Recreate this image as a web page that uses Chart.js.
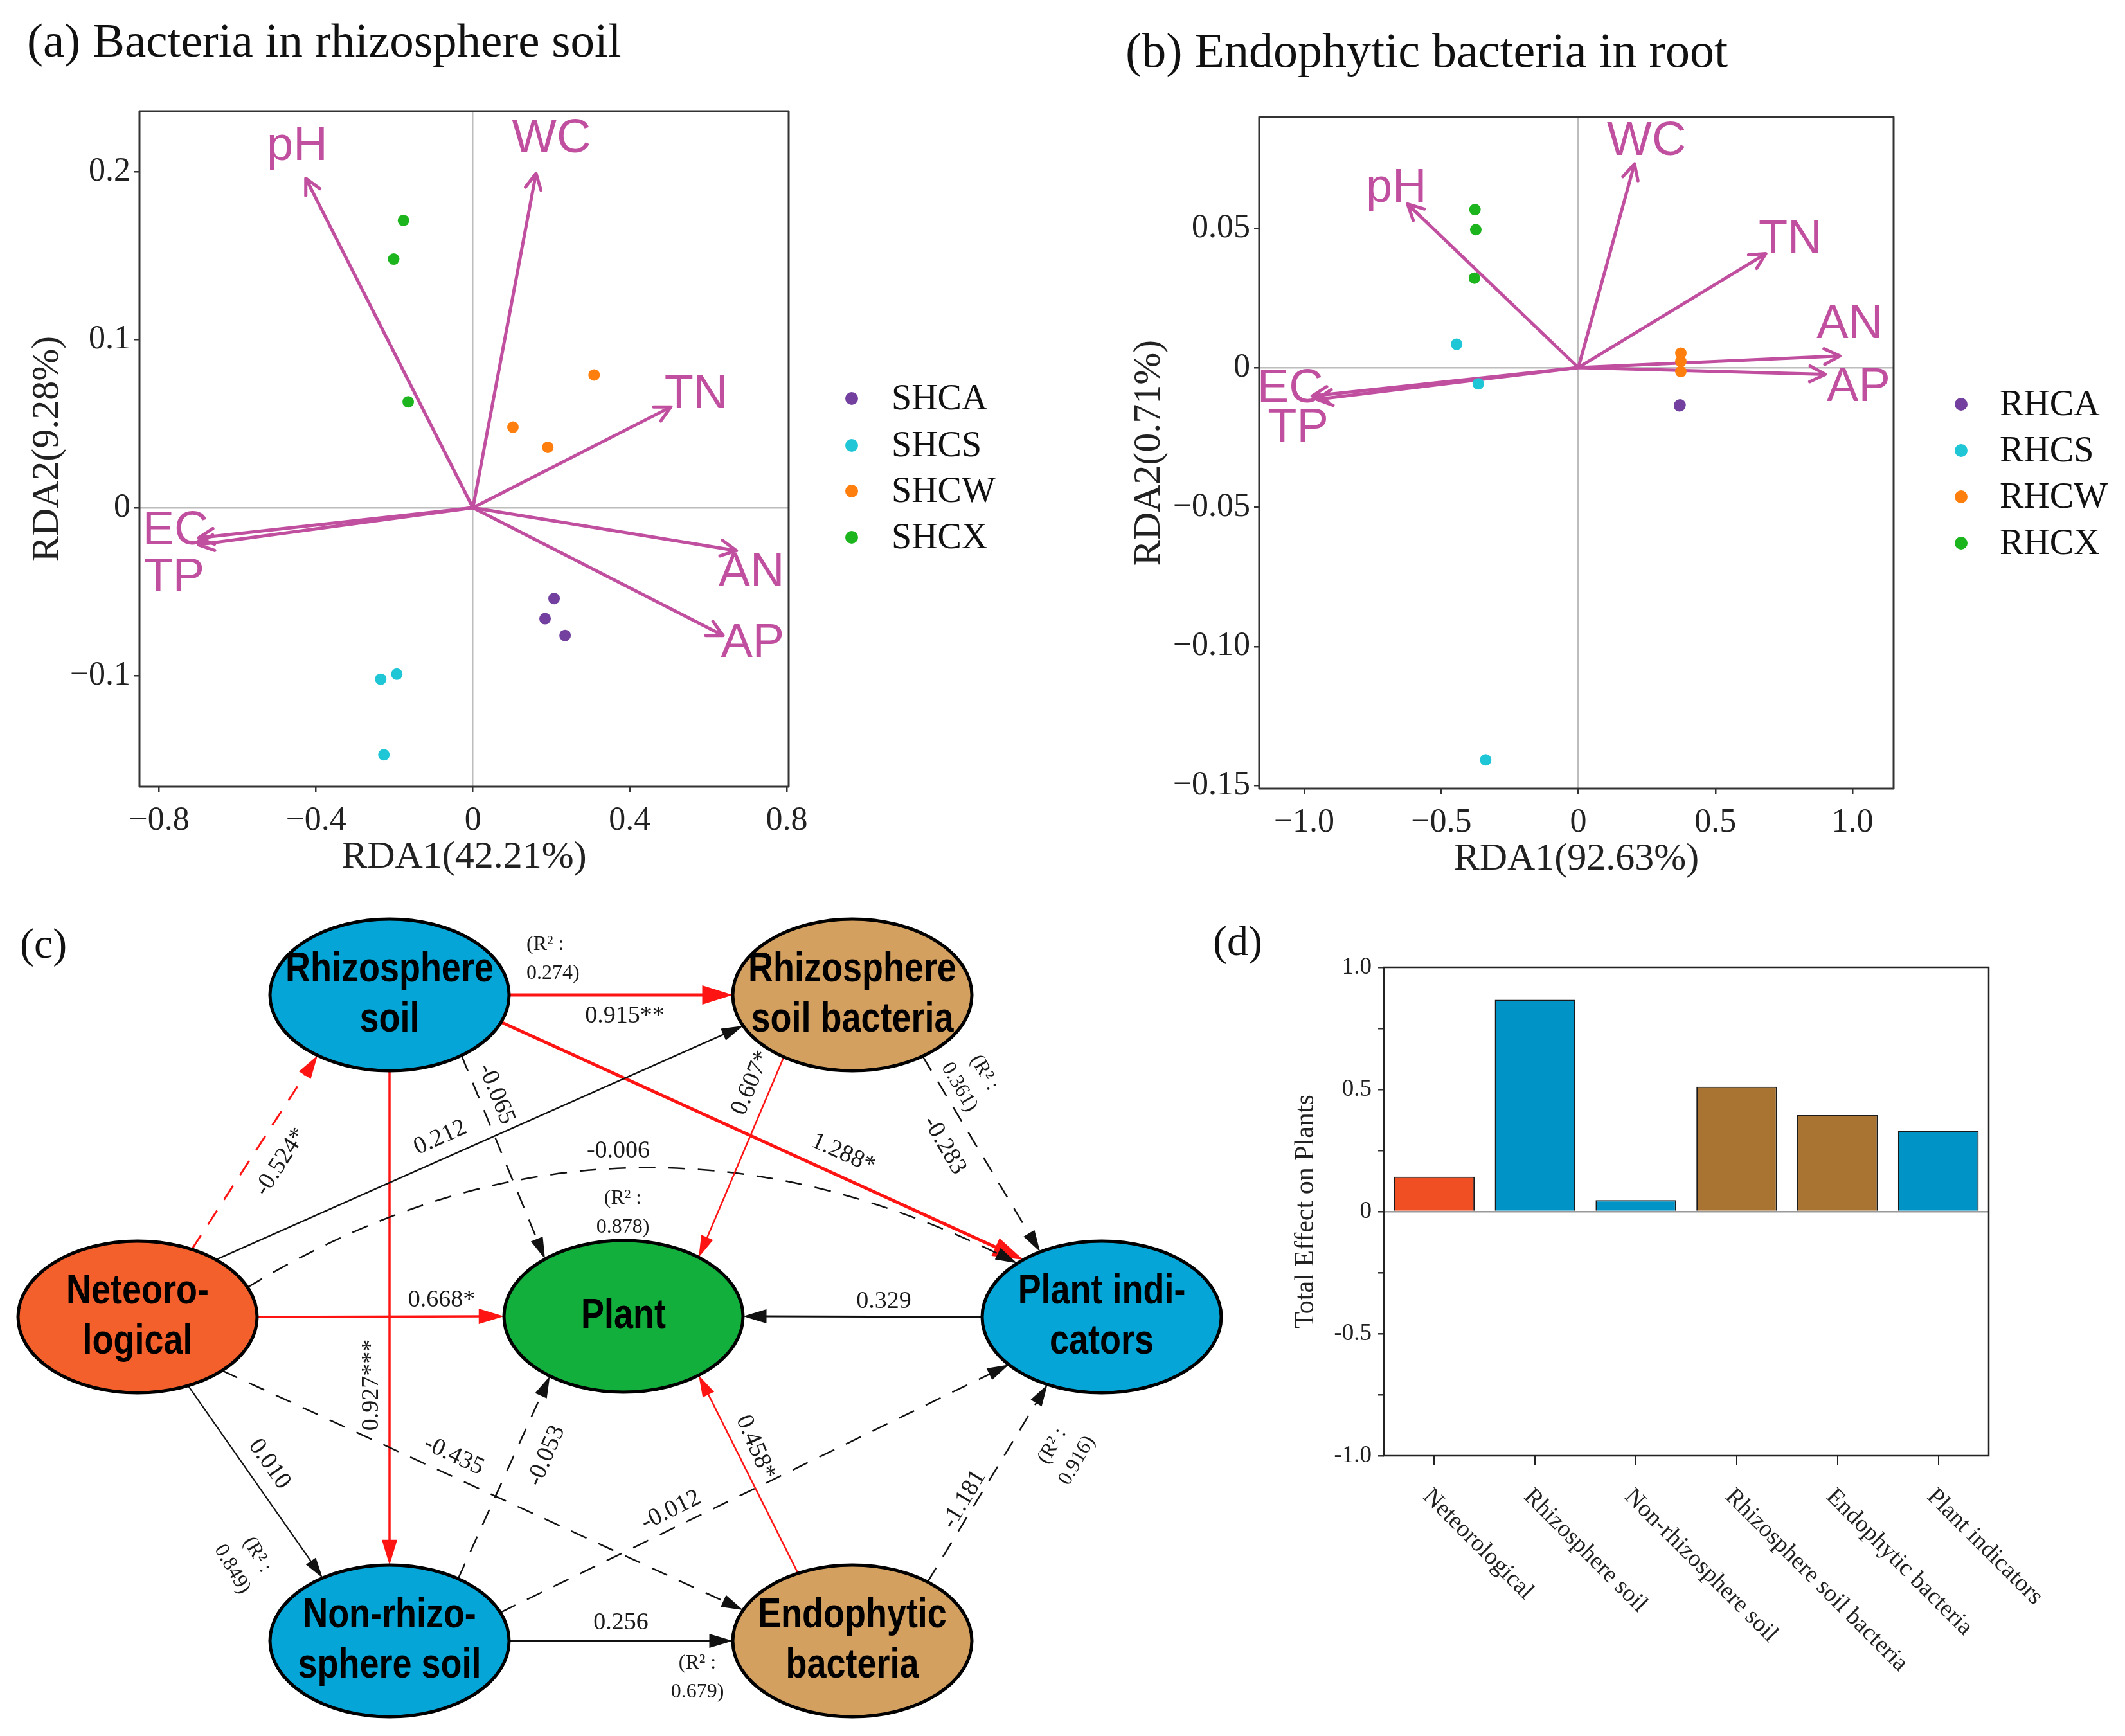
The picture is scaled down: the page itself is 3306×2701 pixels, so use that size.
<!DOCTYPE html>
<html>
<head>
<meta charset="utf-8">
<script src="https://cdn.jsdelivr.net/npm/chart.js@4.4.1/dist/chart.umd.min.js"></script>
<style>
html, body { margin: 0; padding: 0; background: #fff; }
#page { position: relative; width: 3306px; height: 2701px; overflow: hidden; background: #fff; }
.panel { position: absolute; }
.ttl { position: absolute; font-family: 'Liberation Serif', 'Times New Roman', serif; color: #111; white-space: nowrap; line-height: 1; }
</style>
</head>
<body>
<div id="page">
  <div class="panel" style="left:0;top:0;width:1700px;height:1400px;"><canvas id="chartA"></canvas></div>
  <div class="panel" style="left:1700px;top:0;width:1606px;height:1400px;"><canvas id="chartB"></canvas></div>
  <div class="panel" style="left:0;top:1380px;width:1950px;height:1321px;"><canvas id="chartC"></canvas></div>
  <div class="panel" style="left:1850px;top:1380px;width:1456px;height:1321px;"><canvas id="chartD"></canvas></div>
  <div class="ttl" style="left:42px;top:25px;font-size:75px;">(a) Bacteria in rhizosphere soil</div>
  <div class="ttl" style="left:1751px;top:40px;font-size:76px;">(b) Endophytic bacteria in root</div>
  <div class="ttl" style="left:31px;top:1435px;font-size:66px;">(c)</div>
  <div class="ttl" style="left:1887px;top:1431px;font-size:66px;">(d)</div>
</div>
<script>
const FONT_SERIF = "'Liberation Serif', 'Times New Roman', serif";
const FONT_SANS = "'Liberation Sans', Arial, sans-serif";
const ENV_COLOR = '#C14F9F';
const GROUP_COLORS = ['#7340A0', '#1EC6D6', '#FF7F0E', '#1DB51D'];

// ---- (a) RDA, bacteria in rhizosphere soil
const groupsA = ['SHCA', 'SHCS', 'SHCW', 'SHCX'];
const shcaPts = [[0.207, -0.054], [0.184, -0.066], [0.235, -0.076]];
const shcsPts = [[-0.194, -0.099], [-0.235, -0.102], [-0.227, -0.147]];
const shcwPts = [[0.309, 0.079], [0.102, 0.048], [0.191, 0.036]];
const shcxPts = [[-0.177, 0.171], [-0.202, 0.148], [-0.165, 0.063]];
const envVars = ['pH', 'WC', 'TN', 'AN', 'AP', 'EC', 'TP'];
const envA = [[-0.426, 0.196], [0.161, 0.199], [0.505, 0.060], [0.672, -0.0255], [0.638, -0.076], [-0.700, -0.018], [-0.700, -0.022]];
const xTicksA = [-0.8, -0.4, 0, 0.4, 0.8];
const xTickLabelsA = ['\u22120.8', '\u22120.4', '0', '0.4', '0.8'];
const yTicksA = [-0.1, 0, 0.1, 0.2];
const yTickLabelsA = ['\u22120.1', '0', '0.1', '0.2'];

// ---- (b) RDA, endophytic bacteria in root
const groupsB = ['RHCA', 'RHCS', 'RHCW', 'RHCX'];
const rhcaPts = [[0.370, -0.0136], [0.371, -0.0134], [0.369, -0.0137]];
const rhcsPts = [[-0.444, 0.0084], [-0.365, -0.0058], [-0.338, -0.1407]];
const rhcwPts = [[0.374, 0.0052], [0.374, 0.0022], [0.374, -0.0014]];
const rhcxPts = [[-0.377, 0.0567], [-0.374, 0.0495], [-0.379, 0.0321]];
const envB = [[-0.623, 0.0587], [0.205, 0.0731], [0.684, 0.0409], [0.954, 0.0042], [0.901, -0.0024], [-0.971, -0.0102], [-0.954, -0.0114]];
const xTicksB = [-1, -0.5, 0, 0.5, 1];
const xTickLabelsB = ['\u22121.0', '\u22120.5', '0', '0.5', '1.0'];
const yTicksB = [-0.15, -0.10, -0.05, 0, 0.05];
const yTickLabelsB = ['\u22120.15', '\u22120.10', '\u22120.05', '0', '0.05'];

// ---- (c) path model
const nodeLines = [['Rhizosphere', 'soil'], ['Rhizosphere', 'soil bacteria'], ['Neteoro-', 'logical'], ['Plant'], ['Plant indi-', 'cators'], ['Non-rhizo-', 'sphere soil'], ['Endophytic', 'bacteria']];
const pathFrom = [0, 0, 0, 0, 2, 2, 2, 2, 2, 2, 1, 1, 4, 5, 5, 5, 6, 6];
const pathTo   = [1, 4, 5, 3, 0, 1, 3, 4, 5, 6, 3, 4, 3, 3, 4, 6, 3, 4];
const pathCoef = ['0.915**', '1.288*', '0.927***', '-0.065', '-0.524*', '0.212', '0.668*', '-0.006', '0.010', '-0.435',
                  '0.607*', '-0.283', '0.329', '-0.053', '-0.012', '0.256', '0.458*', '-1.181'];
const r2Values = ['0.274', '0.361', '0.878', '0.849', '0.679', '0.916'];

// ---- (d) total effects
const effectCats = ['Neteorological', 'Rhizosphere soil', 'Non-rhizosphere soil', 'Rhizosphere soil bacteria', 'Endophytic bacteria', 'Plant indicators'];
const totalEffect = [0.143, 0.867, 0.047, 0.511, 0.395, 0.330];
const effectTicks = [-1, -0.75, -0.5, -0.25, 0, 0.25, 0.5, 0.75, 1];
const effectTickLabels = ['-1.0', '', '-0.5', '', '0', '', '0.5', '', '1.0'];

// layout of the path diagram (diagram units = canvas px)
const nodeLayout = [[606, 168], [1326, 168], [214, 669], [970, 668], [1714, 669], [606, 1173], [1326, 1173]];
const nodeFill = ['#05A5D7', '#D4A060', '#F4602C', '#12AF3C', '#05A5D7', '#05A5D7', '#D4A060'];
const NODE_RX = 186, NODE_RY = 118;
const pathAnchors = [[0, 180], [21, 229], [90, 270], [53, 229], [297, 127], [311, 156], [0, 180], [337, 225], [65, 236], [45, 204],
                     [125, 309], [54, 239], [180, 0], [305, 128], [338, 141], [0, 180], [243, 51], [309, 117]];
const pathWidth = [5, 5, 3.5, 2.5, 3, 2.5, 3.5, 2.5, 2.2, 2.5, 2.5, 2.5, 3, 2.5, 2.5, 3, 2.5, 2.5];
const pathCtrl = {7: [957, 277]};
const pathLabelPos = [[972, 201, 0], [1312, 415, 24], [578, 775, -90], [772, 322, 68], [437, 428, -57], [685, 390, -24],
                      [687, 643, 0], [962, 411, 0], [419, 898, 55], [706, 885, 25], [1169, 305, -67], [1469, 402, 60],
                      [1375, 645, 0], [850, 885, -67], [1044, 970, -26], [966, 1145, 0], [1175, 872, 67], [1500, 953, -59]];
const r2LabelPos = [[819, 112, 0, 'left'], [1512, 300, 60, 'center'], [969, 507, 0, 'center'],
                    [381, 1050, 60, 'center'], [1085, 1230, 0, 'center'], [1656, 881, -60, 'center']];

function arrowV(ctx, x0, y0, x1, y1, len, spread) {
  const ang = Math.atan2(y1 - y0, x1 - x0);
  ctx.beginPath();
  ctx.moveTo(x1 - len * Math.cos(ang - spread), y1 - len * Math.sin(ang - spread));
  ctx.lineTo(x1, y1);
  ctx.lineTo(x1 - len * Math.cos(ang + spread), y1 - len * Math.sin(ang + spread));
  ctx.stroke();
}

function makeRdaChart(canvasId, s) {
  const datasets = [];
  s.groups.forEach((g, i) => {
    datasets.push({
      label: g,
      data: s.points[i].map(p => ({x: p[0], y: p[1]})),
      backgroundColor: GROUP_COLORS[i],
      borderWidth: 0,
      pointRadius: 9,
      showLine: false
    });
  });
  s.env.forEach((e, i) => {
    datasets.push({
      label: envVars[i],
      isEnv: true,
      data: [{x: 0, y: 0}, {x: e[0], y: e[1]}],
      showLine: true,
      borderColor: ENV_COLOR,
      borderWidth: 5,
      pointRadius: 0
    });
  });

  const decor = {
    id: 'rdaDecor',
    afterDatasetsDraw(chart) {
      const {ctx, chartArea: a, scales: {x, y}} = chart;
      ctx.save();
      ctx.strokeStyle = ENV_COLOR;
      ctx.lineWidth = 5;
      ctx.lineCap = 'round';
      ctx.lineJoin = 'round';
      chart.data.datasets.forEach((ds, i) => {
        if (!ds.isEnv) return;
        const pts = chart.getDatasetMeta(i).data;
        arrowV(ctx, pts[0].x, pts[0].y, pts[1].x, pts[1].y, 27, 0.47);
      });
      // variable names
      ctx.fillStyle = ENV_COLOR;
      ctx.font = '74px ' + FONT_SANS;
      ctx.textAlign = 'center';
      ctx.textBaseline = 'middle';
      envVars.forEach((v, i) => {
        ctx.fillText(v, x.getPixelForValue(s.envLabelPos[i][0]), y.getPixelForValue(s.envLabelPos[i][1]));
      });
      // frame
      ctx.strokeStyle = '#333';
      ctx.lineWidth = 3;
      ctx.lineCap = 'butt';
      ctx.strokeRect(a.left, a.top, a.width, a.height);
      // legend
      ctx.font = '56px ' + FONT_SERIF;
      ctx.textAlign = 'left';
      s.groups.forEach((g, i) => {
        ctx.fillStyle = GROUP_COLORS[i];
        ctx.beginPath();
        ctx.arc(s.legendX, s.legendY[i], 10, 0, Math.PI * 2);
        ctx.fill();
        ctx.fillStyle = '#111';
        ctx.fillText(g, s.legendTextX, s.legendY[i] + 2);
      });
      ctx.restore();
    }
  };

  const gridColor = c => (c.tick && c.tick.value === 0 ? '#BDBDBD' : 'rgba(0,0,0,0)');
  return new Chart(document.getElementById(canvasId), {
    type: 'scatter',
    data: {datasets},
    options: {
      responsive: true,
      maintainAspectRatio: false,
      animation: false,
      layout: {padding: s.pad},
      plugins: {legend: {display: false}, tooltip: {enabled: false}},
      scales: {
        x: {
          type: 'linear', min: s.xMin, max: s.xMax,
          afterBuildTicks: sc => { sc.ticks = s.xTicks.map(v => ({value: v})); },
          afterFit: sc => { sc.height = s.xHeight; },
          border: {display: false},
          grid: {color: gridColor, lineWidth: 2.5, tickColor: '#333', tickLength: 8},
          ticks: {
            font: {family: FONT_SERIF, size: 52}, color: '#222', padding: 14, maxRotation: 0,
            callback: v => s.xTickLabels[s.xTicks.indexOf(v)]
          },
          title: {display: true, text: s.xTitle, font: {family: FONT_SERIF, size: 60}, color: '#222', padding: {top: 0, bottom: s.xTitlePad}}
        },
        y: {
          type: 'linear', min: s.yMin, max: s.yMax,
          afterBuildTicks: sc => { sc.ticks = s.yTicks.map(v => ({value: v})); },
          afterFit: sc => { sc.width = s.yWidth; },
          border: {display: false},
          grid: {color: gridColor, lineWidth: 2.5, tickColor: '#333', tickLength: 8},
          ticks: {
            font: {family: FONT_SERIF, size: 52}, color: '#222', padding: 6,
            callback: v => s.yTickLabels[s.yTicks.indexOf(v)]
          },
          title: {display: true, text: s.yTitle, font: {family: FONT_SERIF, size: 60}, color: '#222', padding: {top: s.yTitlePad, bottom: 0}}
        }
      }
    },
    plugins: [decor]
  });
}

makeRdaChart('chartA', {
  groups: groupsA, points: [shcaPts, shcsPts, shcwPts, shcxPts], env: envA,
  envLabelPos: [[-0.448, 0.2146], [0.2, 0.2195], [0.569, 0.0672], [0.71, -0.0387], [0.713, -0.0811], [-0.758, -0.0139], [-0.762, -0.042]],
  xMin: -0.85, xMax: 0.805, yMin: -0.166, yMax: 0.236,
  xTicks: xTicksA, xTickLabels: xTickLabelsA, yTicks: yTicksA, yTickLabels: yTickLabelsA,
  xTitle: 'RDA1(42.21%)', yTitle: 'RDA2(9.28%)',
  pad: {left: 0, top: 173, right: 473, bottom: 0}, yWidth: 217, xHeight: 176, yTitlePad: 38, xTitlePad: 30,
  legendX: 1325, legendTextX: 1387, legendY: [620, 693, 764, 836]
});

makeRdaChart('chartB', {
  groups: groupsB, points: [rhcaPts, rhcsPts, rhcwPts, rhcxPts], env: envB,
  envLabelPos: [[-0.664, 0.0641], [0.249, 0.081], [0.773, 0.0457], [0.99, 0.0152], [1.022, -0.0072], [-1.051, -0.0078], [-1.022, -0.0218]],
  xMin: -1.164, xMax: 1.15, yMin: -0.151, yMax: 0.0899,
  xTicks: xTicksB, xTickLabels: xTickLabelsB, yTicks: yTicksB, yTickLabels: yTickLabelsB,
  xTitle: 'RDA1(92.63%)', yTitle: 'RDA2(0.71%)',
  pad: {left: 0, top: 182, right: 360, bottom: 0}, yWidth: 259, xHeight: 173, yTitlePad: 52, xTitlePad: 27,
  legendX: 1351, legendTextX: 1411, legendY: [629, 701, 773, 845]
});

// ---- (c) path diagram
const pathDiagram = {
  id: 'pathDiagram',
  afterDatasetsDraw(chart) {
    const {ctx, scales: {x, y}} = chart;
    const pts = chart.getDatasetMeta(0).data;
    const rx = Math.abs(x.getPixelForValue(NODE_RX) - x.getPixelForValue(0));
    const ry = Math.abs(y.getPixelForValue(NODE_RY) - y.getPixelForValue(0));
    const anchorAt = (i, deg) => {
      const t = deg * Math.PI / 180;
      return {x: pts[i].x + rx * Math.cos(t), y: pts[i].y + ry * Math.sin(t)};
    };
    ctx.save();
    // paths
    pathFrom.forEach((f, k) => {
      const p0 = anchorAt(f, pathAnchors[k][0]);
      const p1 = anchorAt(pathTo[k], pathAnchors[k][1]);
      const sig = pathCoef[k].includes('*');
      const neg = pathCoef[k].startsWith('-');
      const color = sig ? '#FF1414' : '#111';
      const w = pathWidth[k];
      const L = 20 + 5.5 * w, W = 5 + 2 * w;
      const ctrl = pathCtrl[k] ? {x: x.getPixelForValue(pathCtrl[k][0]), y: y.getPixelForValue(pathCtrl[k][1])} : null;
      const from = ctrl || p0;
      const ang = Math.atan2(p1.y - from.y, p1.x - from.x);
      const ex = p1.x - L * 0.8 * Math.cos(ang), ey = p1.y - L * 0.8 * Math.sin(ang);
      ctx.strokeStyle = color;
      ctx.fillStyle = color;
      ctx.lineWidth = w;
      ctx.setLineDash(neg ? [26, 20] : []);
      ctx.beginPath();
      ctx.moveTo(p0.x, p0.y);
      if (ctrl) ctx.quadraticCurveTo(ctrl.x, ctrl.y, ex, ey);
      else ctx.lineTo(ex, ey);
      ctx.stroke();
      ctx.setLineDash([]);
      ctx.beginPath();
      ctx.moveTo(p1.x, p1.y);
      ctx.lineTo(p1.x - L * Math.cos(ang) + W * Math.sin(ang), p1.y - L * Math.sin(ang) - W * Math.cos(ang));
      ctx.lineTo(p1.x - L * Math.cos(ang) - W * Math.sin(ang), p1.y - L * Math.sin(ang) + W * Math.cos(ang));
      ctx.closePath();
      ctx.fill();
    });
    // nodes
    pts.forEach((p, i) => {
      ctx.beginPath();
      ctx.ellipse(p.x, p.y, rx, ry, 0, 0, Math.PI * 2);
      ctx.fillStyle = nodeFill[i];
      ctx.fill();
      ctx.lineWidth = 5;
      ctx.strokeStyle = '#000';
      ctx.stroke();
      ctx.fillStyle = '#000';
      ctx.font = 'bold 65px ' + FONT_SANS;
      ctx.textAlign = 'center';
      ctx.textBaseline = 'middle';
      const lines = nodeLines[i];
      lines.forEach((ln, j) => {
        ctx.save();
        ctx.translate(p.x, p.y + (j - (lines.length - 1) / 2) * 78);
        ctx.scale(0.83, 1);
        ctx.fillText(ln, 0, 0);
        ctx.restore();
      });
    });
    // coefficients
    ctx.fillStyle = '#1a1a1a';
    ctx.textAlign = 'center';
    ctx.textBaseline = 'middle';
    ctx.font = '38px ' + FONT_SERIF;
    pathCoef.forEach((c, k) => {
      const [lx, ly, rot] = pathLabelPos[k];
      ctx.save();
      ctx.translate(x.getPixelForValue(lx), y.getPixelForValue(ly));
      ctx.rotate(rot * Math.PI / 180);
      ctx.fillText(c, 0, 0);
      ctx.restore();
    });
    ctx.font = '32px ' + FONT_SERIF;
    r2Values.forEach((r, k) => {
      const [lx, ly, rot, align] = r2LabelPos[k];
      ctx.save();
      ctx.translate(x.getPixelForValue(lx), y.getPixelForValue(ly));
      ctx.rotate(rot * Math.PI / 180);
      ctx.textAlign = align;
      ctx.fillText('(R\u00B2 :', 0, -22);
      ctx.fillText(r + ')', 0, 23);
      ctx.restore();
    });
    ctx.restore();
  }
};

new Chart(document.getElementById('chartC'), {
  type: 'scatter',
  data: {datasets: [{data: nodeLayout.map(n => ({x: n[0], y: n[1]})), pointRadius: 0}]},
  options: {
    responsive: true,
    maintainAspectRatio: false,
    animation: false,
    layout: {padding: 0},
    plugins: {legend: {display: false}, tooltip: {enabled: false}},
    scales: {
      x: {type: 'linear', min: 0, max: 1950, display: false},
      y: {type: 'linear', min: 0, max: 1321, reverse: true, display: false}
    }
  },
  plugins: [pathDiagram]
});

// ---- (d) total effect bars
const effectDecor = {
  id: 'effectDecor',
  afterDraw(chart) {
    const {ctx, chartArea: a, scales: {x}} = chart;
    ctx.save();
    ctx.strokeStyle = '#222';
    ctx.lineWidth = 2.5;
    ctx.strokeRect(a.left, a.top, a.width, a.height);
    ctx.fillStyle = '#222';
    ctx.font = '38px ' + FONT_SERIF;
    ctx.textAlign = 'left';
    ctx.textBaseline = 'middle';
    effectCats.forEach((c, i) => {
      ctx.save();
      ctx.translate(x.getPixelForTick(i) - 12, a.bottom + 58);
      ctx.rotate(Math.PI / 4);
      ctx.fillText(c, 0, 0);
      ctx.restore();
    });
    ctx.restore();
  }
};

new Chart(document.getElementById('chartD'), {
  type: 'bar',
  data: {
    labels: effectCats,
    datasets: [{
      data: totalEffect,
      backgroundColor: ['#F04E23', '#0093C6', '#0093C6', '#A97332', '#A97332', '#0093C6'],
      borderColor: '#1a1a1a',
      borderWidth: 2,
      barPercentage: 0.8,
      categoryPercentage: 1.0
    }]
  },
  options: {
    responsive: true,
    maintainAspectRatio: false,
    animation: false,
    layout: {padding: {left: 0, top: 125, right: 212, bottom: 0}},
    plugins: {legend: {display: false}, tooltip: {enabled: false}},
    scales: {
      x: {
        afterFit: sc => { sc.height = 436; },
        border: {display: false},
        grid: {drawOnChartArea: false, offset: false, tickLength: 15, color: '#222', lineWidth: 2},
        ticks: {display: false}
      },
      y: {
        min: -1, max: 1,
        afterBuildTicks: sc => { sc.ticks = effectTicks.map(v => ({value: v})); },
        afterFit: sc => { sc.width = 303; },
        border: {display: false},
        grid: {
          color: c => (c.tick && c.tick.value === 0 ? '#9A9A9A' : 'rgba(0,0,0,0)'),
          lineWidth: 2.5, tickColor: '#333', tickLength: 9
        },
        ticks: {
          font: {family: FONT_SERIF, size: 37}, color: '#222', padding: 10,
          callback: v => effectTickLabels[effectTicks.indexOf(v)]
        },
        title: {display: true, text: 'Total Effect on Plants', font: {family: FONT_SERIF, size: 42}, color: '#222', padding: {top: 157, bottom: 0}}
      }
    }
  },
  plugins: [effectDecor]
});
</script>
</body>
</html>
